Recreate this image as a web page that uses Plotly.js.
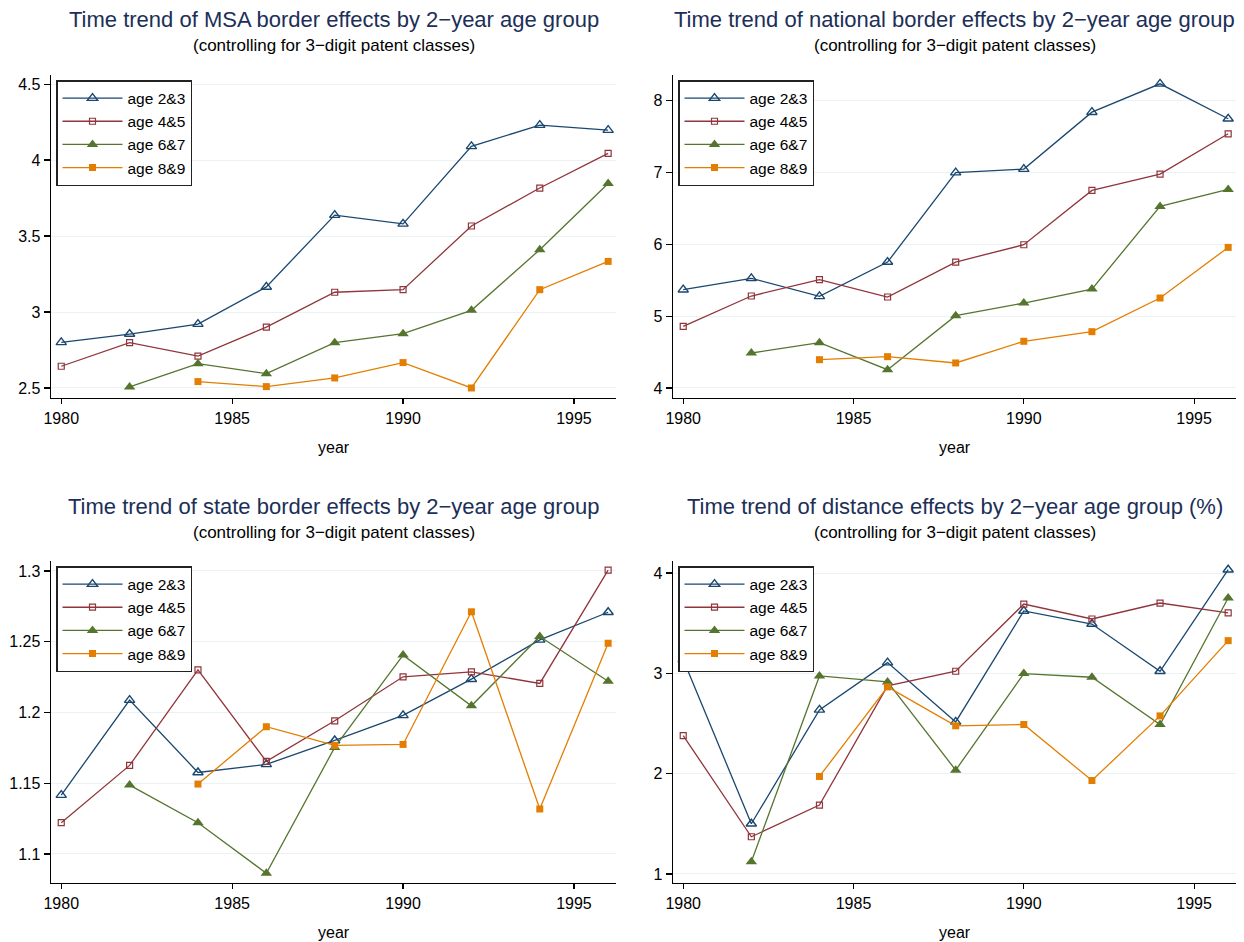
<!DOCTYPE html>
<html>
<head>
<meta charset="utf-8">
<script src="https://cdn.plot.ly/plotly-3.0.1.min.js"></script>
<style>html,body{margin:0;padding:0;background:#fff;}#chart{width:1244px;height:942px;}</style>
</head>
<body>
<div id="chart"></div>
<script>
// ---- data ----
const years = [1980, 1982, 1984, 1986, 1988, 1990, 1992, 1994, 1996];
const seriesNames = ["age 2&3", "age 4&5", "age 6&7", "age 8&9"];

// MSA border effects
const msa_2_3 = [2.80, 2.855, 2.92, 3.165, 3.638, 3.58, 4.09, 4.23, 4.197];
const msa_4_5 = [2.643, 2.798, 2.71, 2.90, 3.13, 3.147, 3.566, 3.816, 4.044];
const msa_6_7 = [null, 2.507, 2.66, 2.594, 2.798, 2.857, 3.011, 3.41, 3.846];
const msa_8_9 = [null, null, 2.542, 2.509, 2.566, 2.667, 2.50, 3.147, 3.333];

// national border effects
const nat_2_3 = [5.369, 5.527, 5.276, 5.754, 7.00, 7.049, 7.842, 8.237, 7.75];
const nat_4_5 = [4.858, 5.281, 5.508, 5.267, 5.754, 5.995, 6.752, 6.979, 7.541];
const nat_6_7 = [null, 4.487, 4.631, 4.255, 5.007, 5.183, 5.378, 6.529, 6.766];
const nat_8_9 = [null, null, 4.394, 4.436, 4.348, 4.65, 4.784, 5.253, 5.958];

// state border effects
const st_2_3 = [1.1416, 1.2087, 1.1576, 1.1633, 1.1802, 1.1979, 1.2235, 1.2513, 1.2708];
const st_4_5 = [1.1221, 1.1626, 1.2301, 1.1654, 1.1941, 1.2252, 1.2287, 1.2205, 1.3005];
const st_6_7 = [null, 1.1487, 1.1221, 1.0864, 1.1753, 1.2405, 1.2047, 1.2536, 1.2221];
const st_8_9 = [null, null, 1.1494, 1.1899, 1.1767, 1.1774, 1.2711, 1.1318, 1.2489];

// distance effects (%)
const dist_2_3 = [3.137, 1.501, 2.636, 3.107, 2.516, 3.622, 3.492, 3.021, 4.033];
const dist_4_5 = [2.38, 1.371, 1.687, 2.875, 3.021, 3.691, 3.542, 3.701, 3.602];
const dist_6_7 = [null, 1.122, 2.974, 2.915, 2.035, 2.998, 2.961, 2.49, 3.751];
const dist_8_9 = [null, null, 1.972, 2.865, 2.477, 2.49, 1.932, 2.576, 3.326];

const xTickVals = [1980, 1985, 1990, 1995];
const xTickText = ["1980", "1985", "1990", "1995"];
const yTicks1 = [2.5, 3, 3.5, 4, 4.5];
const yTickText1 = ["2.5", "3", "3.5", "4", "4.5"];
const yTicks2 = [4, 5, 6, 7, 8];
const yTickText2 = ["4", "5", "6", "7", "8"];
const yTicks3 = [1.1, 1.15, 1.2, 1.25, 1.3];
const yTickText3 = ["1.1", "1.15", "1.2", "1.25", "1.3"];
const yTicks4 = [1, 2, 3, 4];
const yTickText4 = ["1", "2", "3", "4"];

const titles = [
  "Time trend of MSA border effects by 2\u2212year age group",
  "Time trend of national border effects by 2\u2212year age group",
  "Time trend of state border effects by 2\u2212year age group",
  "Time trend of distance effects by 2\u2212year age group (%)"
];
const subtitle = "(controlling for 3\u2212digit patent classes)";

// ---- styling ----
const colors = ["#1a476f", "#90353b", "#55752f", "#e37e00"];
const markers = [
  {symbol: "triangle-up-open", size: 9, line: {width: 1.4}},
  {symbol: "square-open", size: 6, line: {width: 1.2}},
  {symbol: "triangle-up", size: 10, line: {width: 0}},
  {symbol: "square", size: 7, line: {width: 0}}
];

const panels = [
  {data: [msa_2_3, msa_4_5, msa_6_7, msa_8_9], yt: yTicks1, ytt: yTickText1, yr: [2.434, 4.56]},
  {data: [nat_2_3, nat_4_5, nat_6_7, nat_8_9], yt: yTicks2, ytt: yTickText2, yr: [3.86, 8.36]},
  {data: [st_2_3, st_4_5, st_6_7, st_8_9], yt: yTicks3, ytt: yTickText3, yr: [1.0795, 1.307]},
  {data: [dist_2_3, dist_4_5, dist_6_7, dist_8_9], yt: yTicks4, ytt: yTickText4, yr: [0.91, 4.12]}
];

const W = 1244, H = 942;
// pixel boxes [left, right, top, bottom]
const boxes = [
  [51, 616, 75, 398],
  [673, 1236, 75, 398],
  [51, 616, 561, 883],
  [673, 1236, 561, 883]
];

const FONT = "'Liberation Sans', Arial, Helvetica, sans-serif";
const traces = [];
const layout = {
  width: W, height: H,
  margin: {l: 0, r: 0, t: 0, b: 0},
  paper_bgcolor: "#ffffff",
  plot_bgcolor: "#ffffff",
  font: {family: FONT, size: 15, color: "#000"},
  showlegend: true,
  annotations: []
};

panels.forEach((p, i) => {
  const n = i + 1;
  const xa = "x" + (n === 1 ? "" : n);
  const ya = "y" + (n === 1 ? "" : n);
  const lg = "legend" + (n === 1 ? "" : n);
  p.data.forEach((vals, k) => {
    traces.push({
      type: "scatter", mode: "lines+markers",
      x: years, y: vals, name: seriesNames[k],
      xaxis: xa, yaxis: ya, legend: lg,
      connectgaps: false,
      line: {color: colors[k], width: 1.3},
      marker: Object.assign({color: colors[k]}, markers[k], {line: Object.assign({color: colors[k]}, markers[k].line)}),
      hoverinfo: "x+y+name"
    });
  });
  const b = boxes[i];
  const xd = [b[0] / W, b[1] / W];
  const yd = [1 - b[3] / H, 1 - b[2] / H];
  const xKey = "xaxis" + (n === 1 ? "" : n);
  const yKey = "yaxis" + (n === 1 ? "" : n);
  layout[xKey] = {
    domain: xd, anchor: ya, range: [1979.7, 1996.23],
    tickmode: "array", tickvals: xTickVals, ticktext: xTickText,
    showgrid: false, zeroline: false,
    showline: true, linecolor: "#000", linewidth: 1.4,
    ticks: "outside", ticklen: 5, tickwidth: 1.2, tickcolor: "#000",
    tickfont: {family: FONT, size: 16, color: "#000"}
  };
  layout[yKey] = {
    domain: yd, anchor: xa, range: p.yr,
    tickmode: "array", tickvals: p.yt, ticktext: p.ytt,
    showgrid: true, gridcolor: "#eaf2f3", gridwidth: 1,
    zeroline: false,
    showline: true, linecolor: "#000", linewidth: 1.4,
    ticks: "outside", ticklen: 6, tickwidth: 1.2, tickcolor: "#000",
    tickfont: {family: FONT, size: 16, color: "#000"}
  };
  layout[lg] = {
    x: (b[0] + 5) / W, y: 1 - (b[2] + 5) / H,
    xanchor: "left", yanchor: "top",
    bgcolor: "#ffffff", bordercolor: "#222", borderwidth: 1.5,
    font: {family: FONT, size: 15.5, color: "#000"},
    itemwidth: 60,
    tracegroupgap: 0
  };
  const cx = (b[0] + b[1]) / 2 / W;
  layout.annotations.push({
    text: titles[i], xref: "paper", yref: "paper",
    x: cx, y: 1 - (b[2] - 55) / H, xanchor: "center", yanchor: "middle",
    showarrow: false, font: {family: FONT, size: 22, color: "#1c2f58"}
  });
  layout.annotations.push({
    text: subtitle, xref: "paper", yref: "paper",
    x: cx, y: 1 - (b[2] - 29) / H, xanchor: "center", yanchor: "middle",
    showarrow: false, font: {family: FONT, size: 17, color: "#000"}
  });
  layout.annotations.push({
    text: "year", xref: "paper", yref: "paper",
    x: cx, y: 1 - (b[3] + 49) / H, xanchor: "center", yanchor: "middle",
    showarrow: false, font: {family: FONT, size: 16, color: "#000"}
  });
});

Plotly.newPlot("chart", traces, layout, {displayModeBar: false, staticPlot: true});
</script>
</body>
</html>
